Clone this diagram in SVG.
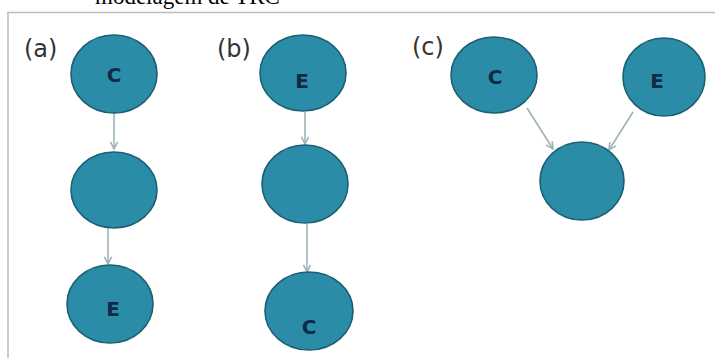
<svg xmlns="http://www.w3.org/2000/svg" width="715" height="358" viewBox="0 0 715 358">
<defs>
<style>
.node{fill:#2b8ca8;stroke:#1c5f74;stroke-width:1.6}
.lbl{font-family:"DejaVu Sans","Liberation Sans",sans-serif;font-weight:bold;font-size:20px;fill:#0e2a45;text-anchor:middle}
.panel{font-family:"DejaVu Sans","Liberation Sans",sans-serif;font-size:24px;fill:#333}
.edge{stroke:#9fb3ba;stroke-width:1.6;fill:none;marker-end:url(#ah)}
.frame{stroke:#bdbdbd;stroke-width:1.5;fill:none}
</style>
<marker id="ah" viewBox="0 0 10 10" refX="9" refY="5" markerWidth="9" markerHeight="9" orient="auto" markerUnits="userSpaceOnUse">
<path d="M1,1 L9,5 L1,9" fill="none" stroke="#9fb3ba" stroke-width="1.8"/>
</marker>
</defs>
<rect width="715" height="358" fill="#fff"/>
<text x="95" y="4" font-family="Liberation Serif,serif" font-size="23" fill="#000">modelagem de TRC</text>
<path class="frame" d="M7,12.5 H715 M8,12 V358"/>
<text class="panel" x="24" y="57">(a)</text>
<text class="panel" x="217" y="57">(b)</text>
<text class="panel" x="412" y="55">(c)</text>
<g id="connectors">
<line class="edge" x1="114" y1="113" x2="114" y2="149"/>
<line class="edge" x1="108" y1="228" x2="108" y2="264"/>
<line class="edge" x1="305" y1="112" x2="305" y2="144"/>
<line class="edge" x1="307" y1="224" x2="307" y2="272"/>
<line class="edge" x1="527" y1="108" x2="553" y2="149"/>
<line class="edge" x1="633" y1="112" x2="609" y2="150"/>
</g>
<g id="a-C"><ellipse class="node" cx="114" cy="74" rx="43" ry="39"/><text class="lbl" x="114" y="82">C</text></g>
<g id="a-mid"><ellipse class="node" cx="114" cy="190" rx="43" ry="38"/></g>
<g id="a-E"><ellipse class="node" cx="110" cy="304" rx="43" ry="39"/><text class="lbl" x="113" y="316">E</text></g>
<g id="b-E"><ellipse class="node" cx="303" cy="73" rx="43" ry="38"/><text class="lbl" x="302" y="88">E</text></g>
<g id="b-mid"><ellipse class="node" cx="305" cy="184" rx="43" ry="39"/></g>
<g id="b-C"><ellipse class="node" cx="309" cy="311" rx="44" ry="39"/><text class="lbl" x="309" y="334">C</text></g>
<g id="c-C"><ellipse class="node" cx="494" cy="75" rx="43" ry="38"/><text class="lbl" x="495" y="84">C</text></g>
<g id="c-E"><ellipse class="node" cx="664" cy="77" rx="41" ry="39"/><text class="lbl" x="657" y="88">E</text></g>
<g id="c-mid"><ellipse class="node" cx="582" cy="181" rx="42" ry="39"/></g>
</svg>
